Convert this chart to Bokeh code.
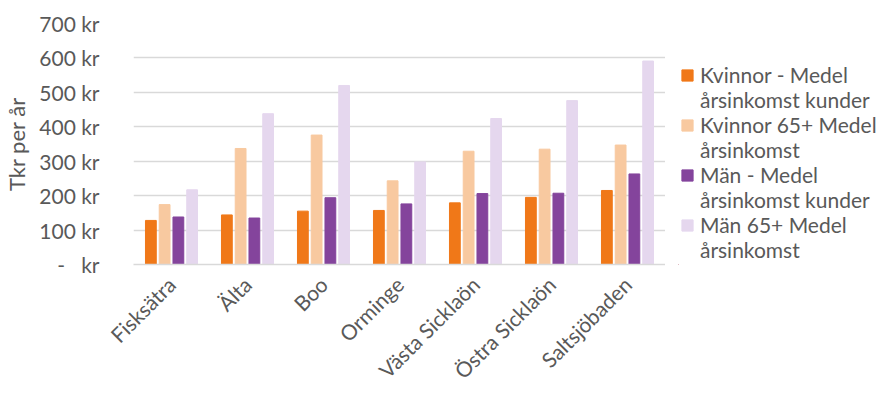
from bokeh.plotting import figure
from bokeh.models import ColumnDataSource, FactorRange, Range1d, Legend, LegendItem, CustomJSTickFormatter, FixedTicker
from bokeh.transform import dodge
from bokeh.layouts import row
from bokeh.embed import file_html
from bokeh.resources import INLINE
import math

categories = ["Fisksätra", "Älta", "Boo", "Orminge", "Västa Sicklaön", "Östra Sicklaön", "Saltsjöbaden"]
kvinnor = [128, 144, 155, 157, 179, 195, 215]
kvinnor65 = [174, 337, 376, 243, 329, 335, 347]
man = [138, 135, 194, 176, 206, 207, 263]
man65 = [217, 438, 520, 298, 424, 476, 591]
series_labels = [("Kvinnor - Medel", "årsinkomst kunder"), ("Kvinnor 65+ Medel", "årsinkomst"),
                 ("Män - Medel", "årsinkomst kunder"), ("Män 65+ Medel", "årsinkomst")]
colors = ["#F07818", "#F8C9A0", "#84449C", "#E5D7EE"]
yticks = [0, 100, 200, 300, 400, 500, 600, 700]

src = ColumnDataSource(dict(cat=categories, k=kvinnor, k65=kvinnor65, m=man, m65=man65))

FONT = "Lato"
p = figure(x_range=FactorRange(*categories, range_padding=0), y_range=Range1d(0, 700),
           width=665, height=394, output_backend="svg", toolbar_location=None,
           min_border_left=124, min_border_right=0, min_border_top=23, min_border_bottom=126)
p.outline_line_color = None
p.background_fill_color = "white"

pitch = 0.181
bw = 0.142
for i, (col, c) in enumerate(zip(["k", "k65", "m", "m65"], colors)):
    p.vbar(x=dodge("cat", (i - 1.5) * pitch, range=p.x_range), top=col, width=bw, source=src,
           fill_color=c, line_color=c)

p.xgrid.grid_line_color = None
p.ygrid.grid_line_color = "#D9D9D9"
p.ygrid.grid_line_width = 1.5
p.ygrid.ticker = FixedTicker(ticks=yticks)

p.yaxis.ticker = FixedTicker(ticks=yticks)
p.yaxis.formatter = CustomJSTickFormatter(code="return tick == 0 ? '-\u00a0\u00a0\u00a0kr' : tick.toFixed(0) + ' kr';")
p.yaxis.axis_line_color = None
p.yaxis.major_tick_line_color = None
p.yaxis.minor_tick_line_color = None
p.yaxis.major_label_text_font = FONT
p.yaxis.major_label_text_font_size = "21px"
p.yaxis.major_label_text_color = "#595959"
p.yaxis.major_label_standoff = 28
p.yaxis.axis_label = "Tkr per år"
p.yaxis.axis_label_text_font = FONT
p.yaxis.axis_label_text_font_size = "22px"
p.yaxis.axis_label_text_font_style = "normal"
p.yaxis.axis_label_text_color = "#595959"
p.yaxis.axis_label_standoff = 6

p.xaxis.axis_line_color = "#D9D9D9"
p.xaxis.axis_line_width = 1.5
p.xaxis.major_tick_line_color = None
p.xaxis.minor_tick_line_color = None
p.xaxis.major_label_orientation = math.pi / 4
p.xaxis.major_label_text_font = FONT
p.xaxis.major_label_text_font_size = "21px"
p.xaxis.major_label_text_color = "#595959"
p.xaxis.major_label_standoff = 10

# legend panel
p2 = figure(width=221, height=394, x_range=Range1d(0, 1), y_range=Range1d(0, 1),
            output_backend="svg", toolbar_location=None,
            min_border_left=13, min_border_right=0, min_border_top=23, min_border_bottom=126)
p2.axis.visible = False
p2.grid.visible = False
p2.outline_line_color = None
blank = p2.vbar(x=[-10], top=[0], width=0.1, fill_alpha=0, line_alpha=0)
items = []
for (l1, l2), c in zip(series_labels, colors):
    r = p2.vbar(x=[-10], top=[0], width=0.1, fill_color=c, line_color=c)
    items.append(LegendItem(label=l1, renderers=[r]))
    items.append(LegendItem(label=l2, renderers=[blank]))
legend = Legend(items=items, location="bottom_left")
legend.label_text_font = FONT
legend.label_text_font_size = "21px"
legend.label_text_color = "#595959"
legend.border_line_color = None
legend.background_fill_alpha = 0
legend.glyph_width = 14
legend.glyph_height = 14
legend.label_height = 24
legend.spacing = 0
legend.padding = 0
legend.margin = 2
legend.label_standoff = 6
p2.add_layout(legend, "center")

open("out.html", "w").write(file_html(row(p, p2), INLINE))
